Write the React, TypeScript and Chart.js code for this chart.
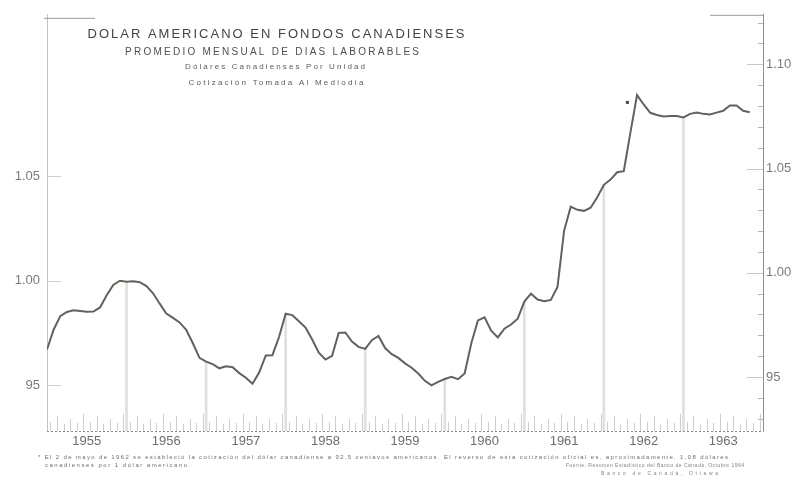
import React, { useEffect, useRef } from "react";
import { Chart, registerables } from "chart.js";
Chart.register(...registerables);

const START_YEAR = 1955;
const END_YEAR = 1964;

// Monthly average, Jan 1955 .. Nov 1963 (Canadian dollars per US dollar)
const monthlyRate = [
  0.967, 0.9765, 0.983, 0.985, 0.9858, 0.9855, 0.9851, 0.9852, 0.9872, 0.993, 0.998, 1.0,
  0.9995, 0.9997, 0.9993, 0.9974, 0.994, 0.989, 0.9843, 0.9822, 0.98, 0.9765, 0.97, 0.963,
  0.9612, 0.96, 0.958, 0.959, 0.9585, 0.9557, 0.9535, 0.9506, 0.956, 0.9642, 0.9643, 0.973,
  0.9842, 0.9835, 0.9806, 0.9775, 0.9718, 0.9655, 0.9622, 0.964, 0.975, 0.9752, 0.9708, 0.9683,
  0.9673, 0.9715, 0.9735, 0.9677, 0.9648, 0.963, 0.9604, 0.9583, 0.9555, 0.952, 0.9498, 0.9515,
  0.9529, 0.9539, 0.9528, 0.9555, 0.97, 0.981, 0.9825, 0.976, 0.9728, 0.977, 0.979, 0.9818,
  0.99, 0.9938, 0.991, 0.9902, 0.9908, 0.997, 1.024, 1.0355, 1.034, 1.0335, 1.035, 1.04,
  1.046, 1.0485, 1.052, 1.0525, 1.071, 1.089, 1.0845, 1.0805, 1.0795, 1.0788, 1.079, 1.079,
  1.0783, 1.08, 1.0807, 1.08, 1.0797, 1.0806, 1.0815, 1.084, 1.084, 1.0815, 1.0808,
];

const dropLineYears = [1956, 1957, 1958, 1959, 1960, 1961, 1962, 1963];
const yearLabelCenters = [1955.5, 1956.5, 1957.5, 1958.5, 1959.5, 1960.5, 1961.5, 1962.5, 1963.5];
const leftAxisTicks = [0.95, 1.0, 1.05];
const rightAxisTicks = [0.95, 1.0, 1.05, 1.1];
const PEG_MONTH = 1962 + 4 / 12;

const titleLines = [
  "DOLAR AMERICANO EN FONDOS CANADIENSES",
  "PROMEDIO MENSUAL DE DIAS LABORABLES",
  "Dólares Canadienses Por Unidad",
  "Cotización Tomada Al Mediodía",
];
const footnoteLines = [
  "* El 2 de mayo de 1962 se estableció la cotización del dólar canadiense a 92,5 centavos americanos. El reverso de esta cotización oficial es, aproximadamente, 1,08 dólares",
  "canadienses por 1 dólar americano",
];
const sourceLines = [
  "Fuente: Resumen Estadístico del Banco de Canadá, Octubre 1964",
  "Banco de Canadá, Ottawa",
];

const FONT = "'Liberation Sans', 'DejaVu Sans', sans-serif";

function fitText(ctx: CanvasRenderingContext2D, text: string, x: number, y: number, width: number, size: number, align: "left" | "center", color: string) {
  ctx.save();
  ctx.font = `${size}px ${FONT}`;
  (ctx as any).letterSpacing = "0px";
  const w = ctx.measureText(text).width;
  const sp = text.length > 1 ? (width - w) / (text.length - 1) : 0;
  (ctx as any).letterSpacing = `${sp}px`;
  ctx.fillStyle = color;
  ctx.textAlign = "left";
  ctx.textBaseline = "middle";
  const x0 = align === "center" ? x - width / 2 : x;
  ctx.fillText(text, x0, y);
  ctx.restore();
}

const fenceHeights = [9, 15, 7, 12, 8, 17];

const decorPlugin = {
  id: "decor",
  beforeDatasetsDraw(chart: any) {
    const { ctx, chartArea: a, scales } = chart;
    const xs = scales.x;
    const y2 = scales.y2;
    const y = scales.y;
    ctx.save();
    // monthly picket ticks along the bottom
    for (let m = 0; m < (END_YEAR - START_YEAR) * 12; m++) {
      const px = Math.round(xs.getPixelForValue(START_YEAR + (m + 0.5) / 12)) + 0.5;
      const h = fenceHeights[m % fenceHeights.length];
      ctx.strokeStyle = "#cdcdcb";
      ctx.lineWidth = 1;
      ctx.beginPath();
      ctx.moveTo(px, a.bottom);
      ctx.lineTo(px, a.bottom - h);
      ctx.stroke();
    }
    // dotted baseline
    ctx.strokeStyle = "#8a8a88";
    ctx.setLineDash([2, 2]);
    ctx.beginPath();
    ctx.moveTo(a.left, a.bottom + 0.5);
    ctx.lineTo(a.right, a.bottom + 0.5);
    ctx.stroke();
    ctx.setLineDash([]);
    // left axis inward ticks
    ctx.strokeStyle = "#cfcfcd";
    leftAxisTicks.forEach((v) => {
      const py = Math.round(y.getPixelForValue(v)) + 0.5;
      ctx.beginPath();
      ctx.moveTo(a.left, py);
      ctx.lineTo(a.left + 14, py);
      ctx.stroke();
    });
    // right axis inward ticks
    for (let k = 93; k <= 112; k++) {
      const v = k / 100;
      const py = Math.round(y2.getPixelForValue(v)) + 0.5;
      const major = k % 5 === 0;
      ctx.strokeStyle = major ? "#c8c8c6" : "#b5b5b3";
      ctx.beginPath();
      ctx.moveTo(a.right, py);
      ctx.lineTo(a.right - (major ? 16 : 5), py);
      ctx.stroke();
    }
    // partial top frame
    ctx.strokeStyle = "#9a9a98";
    ctx.beginPath();
    ctx.moveTo(a.left - 3, a.top + 3.5);
    ctx.lineTo(a.left + 48, a.top + 3.5);
    ctx.stroke();
    ctx.beginPath();
    ctx.moveTo(a.right - 53, a.top + 0.5);
    ctx.lineTo(a.right + 0.5, a.top + 0.5);
    ctx.stroke();
    ctx.restore();
  },
  afterDraw(chart: any) {
    const { ctx, scales } = chart;
    // titles
    fitText(ctx, titleLines[0], 276, 34, 377, 13, "center", "#444442");
    fitText(ctx, titleLines[1], 272, 52, 294, 10, "center", "#4f4f4d");
    fitText(ctx, titleLines[2], 275, 67, 180, 8, "center", "#5c5c5a");
    fitText(ctx, titleLines[3], 276, 83, 175, 8, "center", "#5c5c5a");
    // peg marker
    const mx = scales.x.getPixelForValue(PEG_MONTH) - 3;
    const my = scales.y.getPixelForValue(1.0855);
    ctx.save();
    ctx.fillStyle = "#444";
    ctx.fillRect(mx - 1.5, my - 1.5, 3, 3);
    ctx.restore();
    // footnotes
    fitText(ctx, footnoteLines[0], 38, 457, 690, 6, "left", "#6e6e6c");
    fitText(ctx, footnoteLines[1], 45, 465, 142, 6, "left", "#6e6e6c");
    fitText(ctx, sourceLines[0], 566, 466, 178, 5, "left", "#858583");
    fitText(ctx, sourceLines[1], 601, 474, 117, 5, "left", "#858583");
  },
};

export default function App() {
  const ref = useRef<HTMLCanvasElement | null>(null);
  useEffect(() => {
    document.body.style.margin = "0";
    const canvas = ref.current!;
    const points = monthlyRate.map((v, i) => ({ x: START_YEAR + i / 12, y: v }));
    const drops = dropLineYears.map((yr) => ({ x: yr, y: monthlyRate[(yr - START_YEAR) * 12] }));
    const chart = new Chart(canvas, {
      type: "line",
      data: {
        datasets: [
          {
            type: "line",
            data: points,
            borderColor: "#62625d",
            borderWidth: 2,
            pointRadius: 0,
            tension: 0,
            order: 0,
          } as any,
          {
            type: "bar",
            data: drops,
            backgroundColor: "#e0e0de",
            barThickness: 2,
            order: 1,
          } as any,
        ],
      },
      plugins: [decorPlugin],
      options: {
        animation: false,
        responsive: false,
        maintainAspectRatio: false,
        layout: { padding: { top: 12, left: 0, right: 0, bottom: 0 } },
        plugins: { legend: { display: false }, tooltip: { enabled: false }, title: { display: false } },
        scales: {
          x: {
            type: "linear",
            min: START_YEAR,
            max: END_YEAR,
            offset: false,
            grid: { display: false },
            border: { display: false },
            afterBuildTicks: (s: any) => {
              s.ticks = yearLabelCenters.map((v) => ({ value: v }));
            },
            afterFit: (s: any) => {
              s.height = 54;
            },
            ticks: {
              autoSkip: false,
              maxRotation: 0,
              padding: -5,
              color: "#6e6e6c",
              font: { family: FONT, size: 13 },
              callback: (v: any) => String(Math.floor(Number(v))),
            },
          },
          y: {
            type: "linear",
            position: "left",
            min: 0.92795,
            max: 1.1275,
            grid: { display: false, drawTicks: false },
            border: { display: true, color: "#c4c4c2", width: 1 },
            afterBuildTicks: (s: any) => {
              s.ticks = leftAxisTicks.map((v) => ({ value: v }));
            },
            afterFit: (s: any) => {
              s.width = 47;
            },
            ticks: {
              padding: 7,
              color: "#7a7a78",
              font: { family: FONT, size: 13 },
              callback: (v: any) => (Number(v) < 1 ? String(Math.round(Number(v) * 100)) : Number(v).toFixed(2)),
            },
          },
          y2: {
            type: "linear",
            position: "right",
            min: 0.92414,
            max: 1.1237,
            grid: { display: false, drawTicks: false },
            border: { display: true, color: "#8e8e8c", width: 1 },
            afterBuildTicks: (s: any) => {
              s.ticks = rightAxisTicks.map((v) => ({ value: v }));
            },
            afterFit: (s: any) => {
              s.width = 30;
            },
            ticks: {
              padding: 3,
              color: "#7a7a78",
              font: { family: FONT, size: 13 },
              callback: (v: any) => (Number(v) < 1 ? String(Math.round(Number(v) * 100)) : Number(v).toFixed(2)),
            },
          },
        },
      } as any,
    });
    return () => chart.destroy();
  }, []);
  return <canvas ref={ref} width={793} height={485} style={{ display: "block", width: 793, height: 485 }} />;
}
